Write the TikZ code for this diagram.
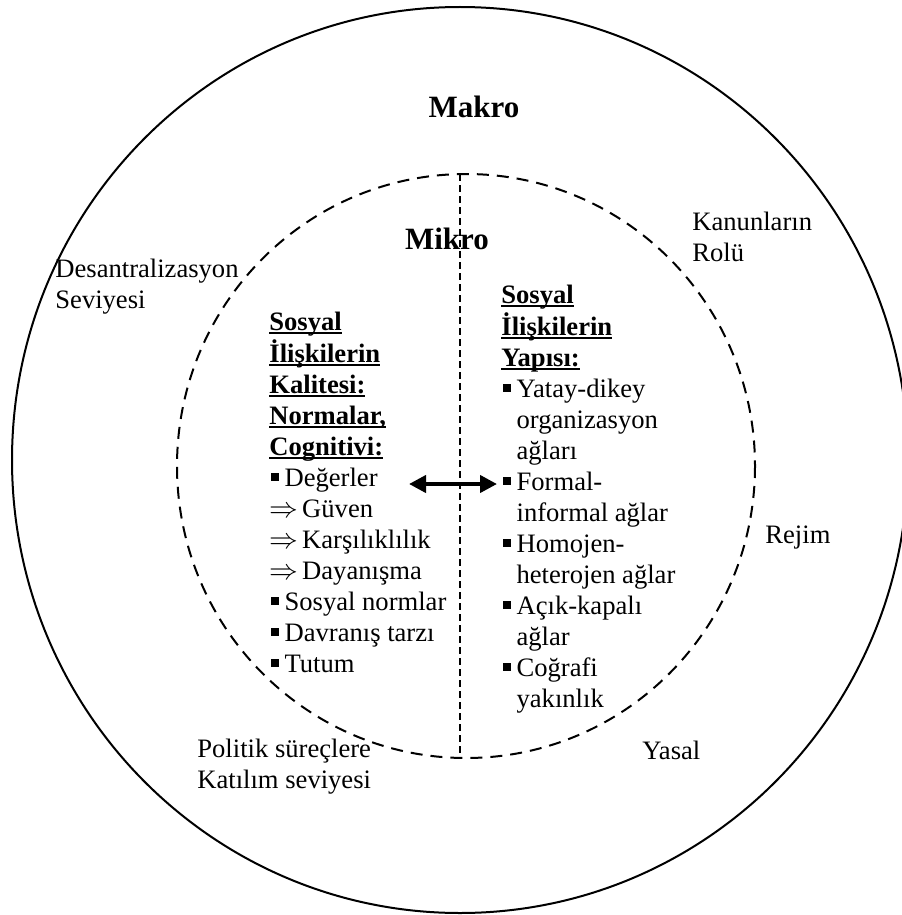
\documentclass[tikz,border=0pt]{standalone}
\usepackage{fontspec}
\setmainfont{Liberation Serif}
\usetikzlibrary{arrows.meta}

\newcommand{\itm}{\hspace*{1pt}\rule[2.6pt]{3.8pt}{3.8pt}\hspace{2.8pt}}
\newcommand{\indt}{\hspace*{7.6pt}}
\newcommand{\impl}{$\Rightarrow$\hspace{2pt}}
\newcommand{\ulh}[1]{\setbox0\hbox{\bfseries #1}\rlap{\rule[-2.1pt]{\wd0}{1.2pt}}\box0}

\tikzset{
  txt/.style={inner sep=0pt, anchor=base west, font=\fontsize{13.3}{15.5}\selectfont},
  big/.style={inner sep=0pt, anchor=base, font=\fontsize{15.5}{18}\selectfont\bfseries},
  outerring/.style={line width=1pt},
  innerring/.style={line width=1pt, dash pattern=on 6pt off 4pt},
  divider/.style={line width=0.8pt, dash pattern=on 3.5pt off 2pt},
  twoway/.style={{Triangle[length=8.5pt,width=8.5pt]}-{Triangle[length=8.5pt,width=8.5pt]}, line width=2pt}
}

\begin{document}
\begin{tikzpicture}[x=0.5pt,y=-0.5pt]
    \useasboundingbox (0,0) rectangle (901,915);

    % rings
    \draw[outerring] (460,460) ellipse [x radius=448, y radius=453];
    \draw[innerring] (466,466) ellipse [x radius=289, y radius=292];

    \coordinate (mtop) at (460,174);
    \coordinate (mbot) at (460,757);
    \draw[divider] (mtop) -- (mbot);

    \node[big] (makro) at (474,118) {Makro};
    \node[big] (mikro) at (447,249) {Mikro};

    % macro level labels
    \node[txt] (desant) at (55,277) {\begin{tabular}[t]{@{}l@{}}Desantralizasyon\\Seviyesi\end{tabular}};
    \node[txt] (kanun) at (692,230) {\begin{tabular}[t]{@{}l@{}}Kanunların\\Rolü\end{tabular}};
    \node[txt] (rejim) at (765,543) {Rejim};
    \node[txt] (politik) at (197,757) {\begin{tabular}[t]{@{}l@{}}Politik süreçlere\\Katılım seviyesi\end{tabular}};
    \node[txt] (yasal) at (642,759) {Yasal};

    % micro level blocks
    \node[txt] (kalite) at (269,330) {\begin{tabular}[t]{@{}l@{}}
        \ulh{Sosyal}\\
        \ulh{İlişkilerin}\\
        \ulh{Kalitesi:}\\
        \ulh{Normalar,}\\
        \ulh{Cognitivi:}\\
        \itm Değerler\\
        \impl Güven\\
        \impl Karşılıklılık\\
        \impl Dayanışma\\
        \itm Sosyal normlar\\
        \itm Davranış tarzı\\
        \itm Tutum
    \end{tabular}};

    \node[txt] (yapi) at (501,303) {\begin{tabular}[t]{@{}l@{}}
        \ulh{Sosyal}\\
        \ulh{İlişkilerin}\\
        \ulh{Yapısı:}\\
        \itm Yatay-dikey\\
        \indt organizasyon\\
        \indt ağları\\
        \itm Formal-\\
        \indt informal ağlar\\
        \itm Homojen-\\
        \indt heterojen ağlar\\
        \itm Açık-kapalı\\
        \indt ağlar\\
        \itm Coğrafi\\
        \indt yakınlık
    \end{tabular}};

    \coordinate (al) at (409,484);
    \coordinate (ar) at (497,484);
    \draw[twoway] (al) -- (ar);
\end{tikzpicture}
\end{document}
